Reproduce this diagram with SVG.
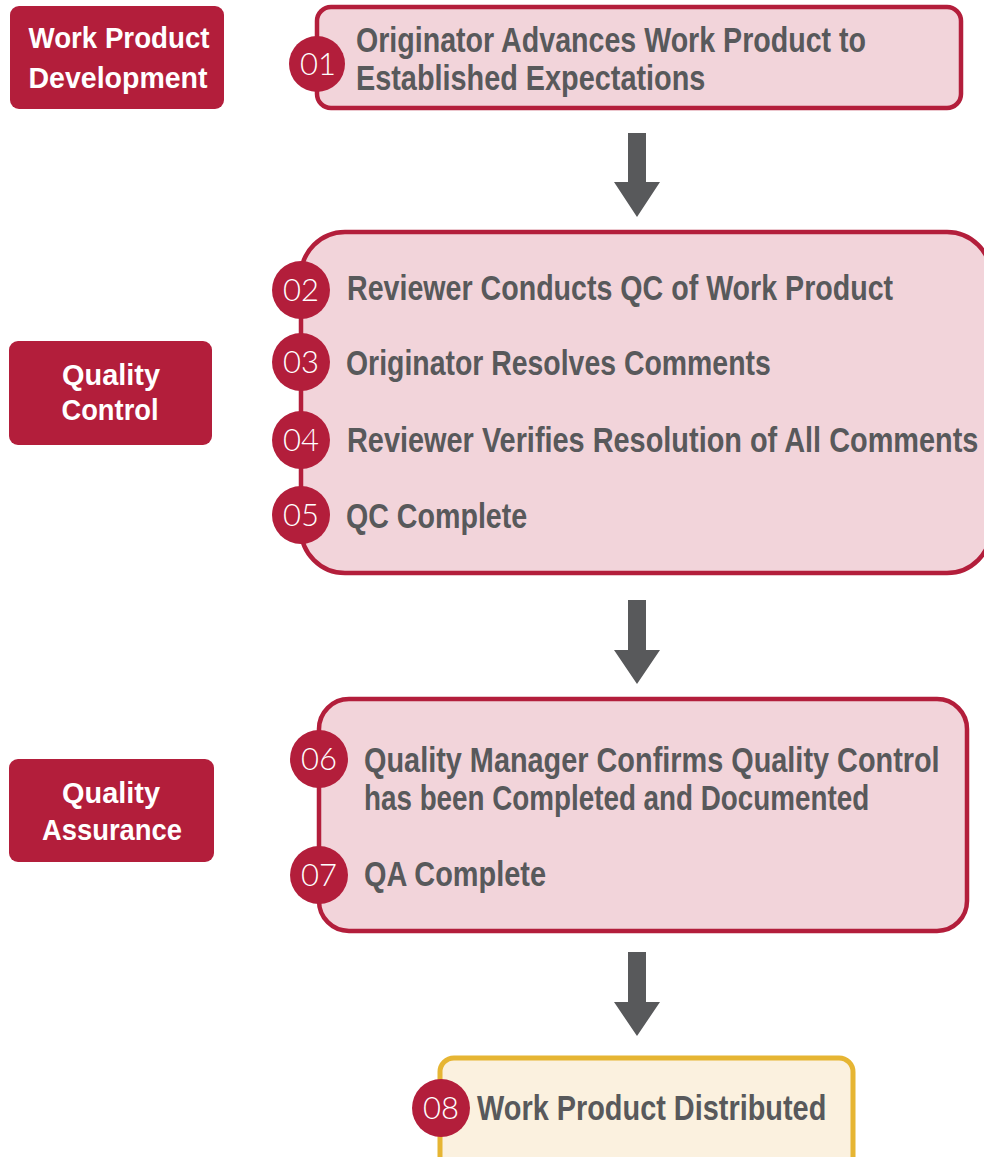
<svg xmlns="http://www.w3.org/2000/svg" width="984" height="1157" viewBox="0 0 984 1157">
<style>
.lab{fill:#B31E3B}
.labt{fill:#ffffff;font-family:"Liberation Sans",Arial,sans-serif;font-weight:bold;font-size:29px;text-anchor:middle}
.box{fill:#F2D4DA;stroke:#B31E3B;stroke-width:4.5}
.fin{fill:#FBF1DF;stroke:#E6B533;stroke-width:5}
.num{fill:#B31E3B}
.numt{fill:#ffffff;font-family:Lato,"Open Sans","Liberation Sans",sans-serif;font-weight:300;font-size:31px;text-anchor:middle}
.txt{fill:#58595B;font-family:"Liberation Sans",Arial,sans-serif;font-weight:bold;font-size:35px}
.arr{fill:#58595B}
</style>
<g id="label-development">
<rect class="lab" x="10" y="6" width="214" height="103" rx="9"/>
<text class="labt" x="119" y="48" textLength="181" lengthAdjust="spacingAndGlyphs">Work Product</text>
<text class="labt" x="118" y="88" textLength="179" lengthAdjust="spacingAndGlyphs">Development</text>
</g>
<g id="label-qc">
<rect class="lab" x="9" y="341" width="203" height="104" rx="9"/>
<text class="labt" x="111" y="385" textLength="98" lengthAdjust="spacingAndGlyphs">Quality</text>
<text class="labt" x="110" y="420" textLength="97" lengthAdjust="spacingAndGlyphs">Control</text>
</g>
<g id="label-qa">
<rect class="lab" x="9" y="759" width="205" height="103" rx="9"/>
<text class="labt" x="111" y="803" textLength="98" lengthAdjust="spacingAndGlyphs">Quality</text>
<text class="labt" x="112" y="840" textLength="140" lengthAdjust="spacingAndGlyphs">Assurance</text>
</g>
<g id="connectors">
<path class="arr" d="M628 133 H646 V182 H660 L637 217 L614 182 H628 Z"/>
<path class="arr" d="M628 600 H646 V650 H660 L637 684 L614 650 H628 Z"/>
<path class="arr" d="M628 952 H646 V1002 H660 L637 1036 L614 1002 H628 Z"/>
</g>
<g id="step-01">
<rect class="box" x="317" y="7" width="644" height="101" rx="14"/>
<circle class="num" cx="317" cy="64" r="28"/>
<text class="numt" x="318" y="75">01</text>
<text class="txt" transform="translate(356,52) scale(0.82,1)" textLength="622" lengthAdjust="spacingAndGlyphs">Originator Advances Work Product to</text>
<text class="txt" transform="translate(356,90) scale(0.82,1)" textLength="426" lengthAdjust="spacingAndGlyphs">Established Expectations</text>
</g>
<g id="steps-qc">
<rect class="box" x="301" y="232" width="690" height="341" rx="44"/>
<circle class="num" cx="301" cy="290" r="29"/>
<text class="numt" x="301" y="301">02</text>
<text class="txt" transform="translate(347,300) scale(0.82,1)" textLength="666" lengthAdjust="spacingAndGlyphs">Reviewer Conducts QC of Work Product</text>
<circle class="num" cx="301" cy="362" r="29"/>
<text class="numt" x="301" y="373">03</text>
<text class="txt" transform="translate(346,375) scale(0.82,1)" textLength="518" lengthAdjust="spacingAndGlyphs">Originator Resolves Comments</text>
<circle class="num" cx="301" cy="440" r="29"/>
<text class="numt" x="301" y="451">04</text>
<text class="txt" transform="translate(347,452) scale(0.82,1)" textLength="770" lengthAdjust="spacingAndGlyphs">Reviewer Verifies Resolution of All Comments</text>
<circle class="num" cx="301" cy="515" r="29"/>
<text class="numt" x="301" y="526">05</text>
<text class="txt" transform="translate(346,528) scale(0.82,1)" textLength="221" lengthAdjust="spacingAndGlyphs">QC Complete</text>
</g>
<g id="steps-qa">
<rect class="box" x="319" y="699" width="648" height="232" rx="30"/>
<circle class="num" cx="319" cy="759" r="29"/>
<text class="numt" x="319" y="770">06</text>
<text class="txt" transform="translate(364,772) scale(0.82,1)" textLength="702" lengthAdjust="spacingAndGlyphs">Quality Manager Confirms Quality Control</text>
<text class="txt" transform="translate(364,810) scale(0.82,1)" textLength="616" lengthAdjust="spacingAndGlyphs">has been Completed and Documented</text>
<circle class="num" cx="319" cy="875" r="29"/>
<text class="numt" x="319" y="886">07</text>
<text class="txt" transform="translate(364,886) scale(0.82,1)" textLength="222" lengthAdjust="spacingAndGlyphs">QA Complete</text>
</g>
<g id="step-08">
<rect class="fin" x="440" y="1058" width="413" height="120" rx="14"/>
<circle class="num" cx="441" cy="1108" r="29"/>
<text class="numt" x="441" y="1119">08</text>
<text class="txt" transform="translate(477,1120) scale(0.82,1)" textLength="426" lengthAdjust="spacingAndGlyphs">Work Product Distributed</text>
</g>
</svg>
